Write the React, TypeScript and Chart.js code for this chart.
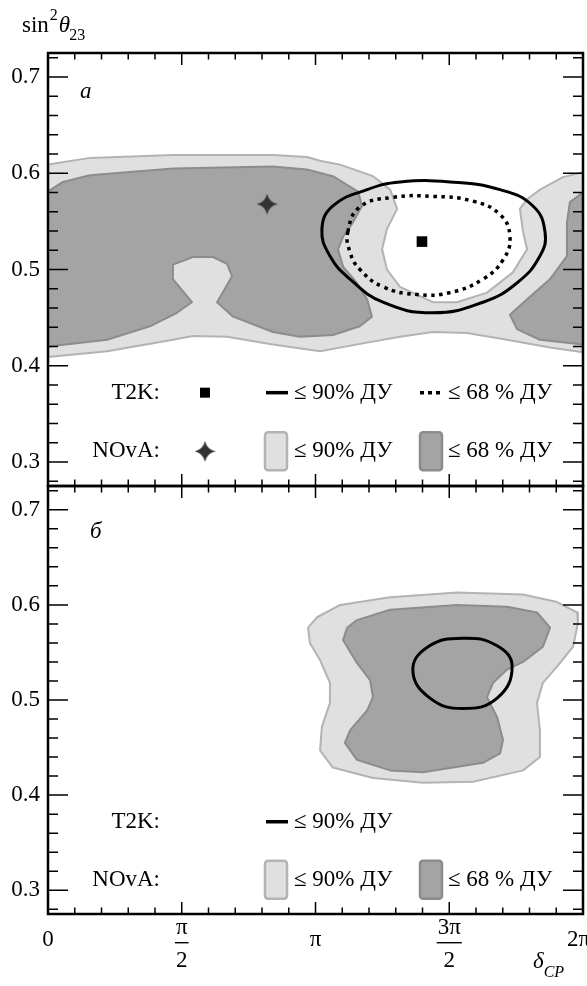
import React, { useEffect, useRef } from 'react';
import { Chart, registerables } from 'chart.js';

Chart.register(...registerables);

type P = [number, number];

// δCP axis values are in units of π
const X_RANGE: P = [0, 2];
const Y_RANGE: P = [0.275, 0.725];
const X_TICKS = [0, 0.5, 1, 1.5, 2];
const X_TICK_LABELS = ['0', 'π/2', 'π', '3π/2', '2π'];
const Y_TICKS = [0.3, 0.4, 0.5, 0.6, 0.7];
const Y_TICK_LABELS = ['0.3', '0.4', '0.5', '0.6', '0.7'];

// ---------- panel a ----------
const NOVA90_A: P[] = [
  [0, 0.609], [0.157, 0.616], [0.467, 0.619], [0.841, 0.619], [0.968, 0.617], [1.017, 0.613],
  [1.092, 0.609], [1.215, 0.597], [1.279, 0.583], [1.305, 0.563], [1.267, 0.542], [1.249, 0.521],
  [1.267, 0.5], [1.316, 0.482], [1.439, 0.466], [1.529, 0.466], [1.641, 0.476], [1.738, 0.497],
  [1.791, 0.521], [1.776, 0.539], [1.764, 0.563], [1.791, 0.573], [1.839, 0.583], [1.925, 0.596],
  [2.0, 0.601], [2.0, 0.414], [1.877, 0.419], [1.716, 0.427], [1.566, 0.434], [1.439, 0.435],
  [1.316, 0.43], [1.193, 0.424], [1.017, 0.415], [0.841, 0.422], [0.669, 0.43], [0.542, 0.431],
  [0.467, 0.427], [0.221, 0.415], [0, 0.409],
];
const NOVA68_A_LEFT: P[] = [
  [0, 0.581], [0.056, 0.591], [0.157, 0.598], [0.467, 0.605], [0.841, 0.607], [0.968, 0.604],
  [1.065, 0.597], [1.159, 0.581], [1.174, 0.566], [1.14, 0.549], [1.103, 0.534], [1.084, 0.521],
  [1.103, 0.503], [1.155, 0.486], [1.193, 0.469], [1.211, 0.451], [1.166, 0.441], [1.065, 0.432],
  [0.942, 0.43], [0.841, 0.435], [0.692, 0.451], [0.632, 0.466], [0.688, 0.493], [0.669, 0.506],
  [0.617, 0.513], [0.542, 0.513], [0.467, 0.505], [0.467, 0.49], [0.538, 0.466], [0.482, 0.455],
  [0.381, 0.441], [0.221, 0.427], [0, 0.42],
];
const NOVA68_A_RIGHT: P[] = [
  [2, 0.58], [1.951, 0.57], [1.94, 0.549], [1.94, 0.514], [1.877, 0.49], [1.791, 0.469],
  [1.727, 0.453], [1.753, 0.438], [1.839, 0.427], [2, 0.422],
];
const T2K90_A: P[] = [
  [1.024, 0.542], [1.065, 0.566], [1.193, 0.583], [1.316, 0.591], [1.503, 0.591], [1.69, 0.583],
  [1.813, 0.566], [1.858, 0.539], [1.839, 0.514], [1.753, 0.486], [1.626, 0.466], [1.439, 0.455],
  [1.252, 0.466], [1.129, 0.49], [1.054, 0.514],
];
const T2K68_A: P[] = [
  [1.121, 0.539], [1.166, 0.565], [1.29, 0.575], [1.439, 0.576], [1.589, 0.571], [1.69, 0.557],
  [1.727, 0.534], [1.701, 0.51], [1.626, 0.49], [1.503, 0.476], [1.379, 0.474], [1.252, 0.482],
  [1.166, 0.5], [1.129, 0.518],
];
const T2K_BEST_A: P = [1.398, 0.529];
const NOVA_BEST_A: P = [0.819, 0.568];

// ---------- panel b ----------
const NOVA90_B: P[] = [
  [0.972, 0.576], [1.006, 0.587], [1.092, 0.6], [1.279, 0.608], [1.529, 0.613], [1.776, 0.611],
  [1.903, 0.603], [1.978, 0.592], [1.981, 0.581], [1.963, 0.556], [1.903, 0.535], [1.85, 0.518],
  [1.828, 0.497], [1.839, 0.468], [1.839, 0.44], [1.776, 0.426], [1.589, 0.414], [1.402, 0.413],
  [1.215, 0.418], [1.065, 0.429], [1.017, 0.447], [1.024, 0.472], [1.054, 0.497], [1.054, 0.518],
  [1.017, 0.542], [0.979, 0.56],
];
const NOVA68_B: P[] = [
  [1.118, 0.576], [1.155, 0.584], [1.279, 0.595], [1.529, 0.6], [1.716, 0.598], [1.828, 0.592],
  [1.877, 0.576], [1.85, 0.556], [1.776, 0.54], [1.716, 0.532], [1.664, 0.518], [1.641, 0.503],
  [1.679, 0.482], [1.701, 0.458], [1.69, 0.444], [1.626, 0.434], [1.402, 0.424], [1.279, 0.426],
  [1.155, 0.437], [1.11, 0.455], [1.129, 0.468], [1.193, 0.489], [1.215, 0.503], [1.204, 0.521],
  [1.155, 0.539], [1.103, 0.563],
];
const T2K90_B: P[] = [
  [1.364, 0.531], [1.421, 0.556], [1.551, 0.565], [1.679, 0.557], [1.735, 0.535], [1.679, 0.502],
  [1.551, 0.491], [1.428, 0.502],
];

const FONT = '"Liberation Serif", "Times New Roman", serif';
const LIGHT = '#e0e0e0';
const LIGHT_EDGE = '#b3b3b3';
const DARK = '#a4a4a4';
const DARK_EDGE = '#8c8c8c';
const STAR_COLOR = '#333333';

const toXY = (pts: P[]) => pts.map(([x, y]) => ({ x, y }));

function makeStar(size: number, color: string) {
  const c = document.createElement('canvas');
  c.width = size;
  c.height = size;
  const g = c.getContext('2d')!;
  const h = size / 2;
  const w = size * 0.09;
  g.fillStyle = color;
  g.beginPath();
  g.moveTo(h, 0);
  g.quadraticCurveTo(h + w, h - w, size, h);
  g.quadraticCurveTo(h + w, h + w, h, size);
  g.quadraticCurveTo(h - w, h + w, 0, h);
  g.quadraticCurveTo(h - w, h - w, h, 0);
  g.closePath();
  g.fill();
  return c;
}

function region(pts: P[], fill: string, edge: string, order: number) {
  const d = toXY(pts);
  d.push({ x: pts[0][0], y: pts[0][1] });
  return {
    data: d, fill: 'shape', backgroundColor: fill, borderColor: edge, borderWidth: 2,
    pointRadius: 0, tension: 0, order, borderJoinStyle: 'round',
  };
}
function curve(pts: P[], dashed: boolean, order: number) {
  return {
    data: toXY(pts), fill: false, borderColor: '#000', borderWidth: dashed ? 3.5 : 3,
    borderDash: dashed ? [3.5, 4.5] : [], borderCapStyle: 'butt', pointRadius: 0,
    tension: 0.45, closedLoop: true, order,
  };
}
function marker(p: P, style: any, radius: number, color: string, order: number) {
  return {
    data: [{ x: p[0], y: p[1] }], showLine: false, pointStyle: style, pointRadius: radius,
    pointBackgroundColor: color, pointBorderColor: color, pointBorderWidth: 0, order,
  };
}

function text(ctx: CanvasRenderingContext2D, s: string, x: number, y: number, size: number,
  opts: { align?: CanvasTextAlign; italic?: boolean; baseline?: CanvasTextBaseline } = {}) {
  ctx.font = `${opts.italic ? 'italic ' : ''}${size}px ${FONT}`;
  ctx.textAlign = opts.align || 'left';
  ctx.textBaseline = opts.baseline || 'alphabetic';
  ctx.fillStyle = '#000';
  ctx.fillText(s, x, y);
  return ctx.measureText(s).width;
}

function box(ctx: CanvasRenderingContext2D, x: number, y: number, w: number, h: number, fill: string, edge: string) {
  ctx.beginPath();
  if ((ctx as any).roundRect) (ctx as any).roundRect(x, y, w, h, 3);
  else ctx.rect(x, y, w, h);
  ctx.fillStyle = fill;
  ctx.fill();
  ctx.lineWidth = 2.5;
  ctx.strokeStyle = edge;
  ctx.stroke();
}

const closedLoopPlugin = {
  id: 'closedLoop',
  afterDatasetsUpdate(chart: any) {
    chart.data.datasets.forEach((ds: any, i: number) => {
      if (!ds.closedLoop) return;
      const line = chart.getDatasetMeta(i).dataset;
      if (!line) return;
      line._loop = true;
      line._fullLoop = true;
      line._pointsUpdated = false;
      delete line._segments;
      line._path = undefined;
    });
  },
};

function framePlugin(panel: 'a' | 'b', star: HTMLCanvasElement) {
  return {
    id: 'frame',
    afterDraw(chart: any) {
      const ctx: CanvasRenderingContext2D = chart.ctx;
      const ca = chart.chartArea;
      const xs = chart.scales.x;
      const ys = chart.scales.y;
      ctx.save();
      ctx.strokeStyle = '#000';
      ctx.lineWidth = 1.5;
      ctx.beginPath();
      for (let i = 0; i <= 20; i++) {
        const px = xs.getPixelForValue(i * 0.1);
        const len = i % 5 === 0 ? 12 : 6.5;
        ctx.moveTo(px, ca.top); ctx.lineTo(px, ca.top + len);
        ctx.moveTo(px, ca.bottom); ctx.lineTo(px, ca.bottom - len);
      }
      for (let i = 14; i <= 36; i++) {
        const py = ys.getPixelForValue(i * 0.02);
        const len = i % 5 === 0 ? 20 : 10;
        ctx.moveTo(ca.left, py); ctx.lineTo(ca.left + len, py);
        ctx.moveTo(ca.right, py); ctx.lineTo(ca.right - len, py);
      }
      ctx.stroke();
      ctx.lineWidth = 2.5;
      ctx.strokeRect(ca.left, ca.top, ca.right - ca.left, ca.bottom - ca.top);

      // panel letter
      if (panel === 'a') text(ctx, 'a', ca.left + 32, ca.top + 45, 23, { italic: true });
      else text(ctx, 'б', ca.left + 42, ca.top + 52, 23, { italic: true });

      // legend
      const L = ca.left;
      const r1 = ys.getPixelForValue(0.372);
      const r2 = ys.getPixelForValue(0.311);
      text(ctx, 'T2K:', L + 112, r1, 23, { align: 'right', baseline: 'middle' });
      text(ctx, 'NOvA:', L + 112, r2, 23, { align: 'right', baseline: 'middle' });
      if (panel === 'a') {
        ctx.fillStyle = '#000';
        ctx.fillRect(L + 157 - 5, r1 - 5, 10, 10);
        ctx.drawImage(star, L + 157 - star.width / 2, r2 - star.height / 2);
      }
      ctx.lineCap = 'butt';
      ctx.lineWidth = 3.5;
      ctx.strokeStyle = '#000';
      ctx.beginPath(); ctx.moveTo(L + 218, r1); ctx.lineTo(L + 240, r1); ctx.stroke();
      text(ctx, '≤ 90% ДУ', L + 246, r1, 23, { baseline: 'middle' });
      if (panel === 'a') {
        ctx.setLineDash([4, 4]);
        ctx.beginPath(); ctx.moveTo(L + 372, r1); ctx.lineTo(L + 394, r1); ctx.stroke();
        ctx.setLineDash([]);
        text(ctx, '≤ 68 % ДУ', L + 400, r1, 23, { baseline: 'middle' });
      }
      box(ctx, L + 217, r2 - 19, 22, 38, LIGHT, LIGHT_EDGE);
      text(ctx, '≤ 90% ДУ', L + 246, r2, 23, { baseline: 'middle' });
      box(ctx, L + 372, r2 - 19, 22, 38, DARK, DARK_EDGE);
      text(ctx, '≤ 68 % ДУ', L + 400, r2, 23, { baseline: 'middle' });

      if (panel === 'a') {
        // y axis title sin²θ23
        let x = 22;
        x += text(ctx, 'sin', x, 32, 23);
        x += 1;
        const w2 = text(ctx, '2', x, 20, 16);
        const xt = x + w2 + 1;
        const wt = text(ctx, 'θ', xt, 32, 23, { italic: true });
        text(ctx, '23', xt + wt - 1, 40, 16);
      } else {
        X_TICKS.forEach((v, i) => {
          let px = xs.getPixelForValue(v);
          const [num, den] = X_TICK_LABELS[i].split('/');
          if (den) {
            const w = text(ctx, num, px, ca.bottom + 20, 23, { align: 'center' });
            ctx.fillStyle = '#000';
            ctx.fillRect(px - w / 2 - 1, ca.bottom + 28, w + 2, 1.4);
            text(ctx, den, px, ca.bottom + 53, 23, { align: 'center' });
          } else {
            ctx.font = `23px ${FONT}`;
            const w = ctx.measureText(num).width;
            px = Math.min(px, chart.width + 3 - w / 2);
            text(ctx, num, px, ca.bottom + 32, 23, { align: 'center' });
          }
        });
        const wd = text(ctx, 'δ', 533, ca.bottom + 54, 23, { italic: true });
        text(ctx, 'CP', 533 + wd, ca.bottom + 63, 16, { italic: true });
      }
      ctx.restore();
    },
  };
}

function buildConfig(panel: 'a' | 'b', padTop: number, padBottom: number, star: HTMLCanvasElement): any {
  const datasets: any[] =
    panel === 'a'
      ? [
          region(NOVA90_A, LIGHT, LIGHT_EDGE, 10),
          region(NOVA68_A_LEFT, DARK, DARK_EDGE, 9),
          region(NOVA68_A_RIGHT, DARK, DARK_EDGE, 8),
          curve(T2K90_A, false, 5),
          curve(T2K68_A, true, 4),
          marker(T2K_BEST_A, 'rect', 7.5, '#000', 2),
          marker(NOVA_BEST_A, star, 10, STAR_COLOR, 1),
        ]
      : [
          region(NOVA90_B, LIGHT, LIGHT_EDGE, 10),
          region(NOVA68_B, DARK, DARK_EDGE, 9),
          curve(T2K90_B, false, 5),
        ];
  return {
    type: 'line',
    data: { datasets },
    options: {
      responsive: false,
      maintainAspectRatio: false,
      animation: false,
      events: [],
      layout: { autoPadding: false, padding: { top: padTop, right: 4, bottom: padBottom, left: 0 } },
      plugins: { legend: { display: false }, tooltip: { enabled: false } },
      scales: {
        x: { type: 'linear', min: X_RANGE[0], max: X_RANGE[1], display: false },
        y: {
          type: 'linear',
          position: 'left',
          min: Y_RANGE[0],
          max: Y_RANGE[1],
          grid: { display: false, drawTicks: false },
          border: { display: false },
          ticks: {
            padding: 8,
            color: '#000',
            font: { family: FONT, size: 23 },
            callback: (v: number) => {
              const i = Y_TICKS.findIndex((t) => Math.abs(t - v) < 1e-6);
              return i >= 0 ? Y_TICK_LABELS[i] : '';
            },
          },
          afterBuildTicks: (axis: any) => {
            axis.ticks = Y_TICKS.map((value) => ({ value }));
          },
          afterFit: (axis: any) => {
            axis.width = 48;
            axis.paddingTop = 0;
            axis.paddingBottom = 0;
            axis.paddingLeft = 0;
            axis.paddingRight = 0;
          },
        },
      },
    },
    plugins: [closedLoopPlugin, framePlugin(panel, star)],
  };
}

function Panel(props: { panel: 'a' | 'b'; top: number; height: number; padTop: number; padBottom: number }) {
  const ref = useRef<HTMLCanvasElement>(null);
  useEffect(() => {
    const star = makeStar(21, STAR_COLOR);
    const chart = new Chart(ref.current!, buildConfig(props.panel, props.padTop, props.padBottom, star));
    return () => chart.destroy();
  }, []);
  return (
    <canvas
      ref={ref}
      width={587}
      height={props.height}
      style={{ position: 'absolute', left: 0, top: props.top, width: 587, height: props.height }}
    />
  );
}

export default function App() {
  return (
    <div style={{ position: 'absolute', left: 0, top: 0, width: 587, height: 986, background: '#fff' }}>
      <Panel panel="a" top={0} height={490} padTop={53} padBottom={4} />
      <Panel panel="b" top={482} height={504} padTop={4} padBottom={72} />
    </div>
  );
}
